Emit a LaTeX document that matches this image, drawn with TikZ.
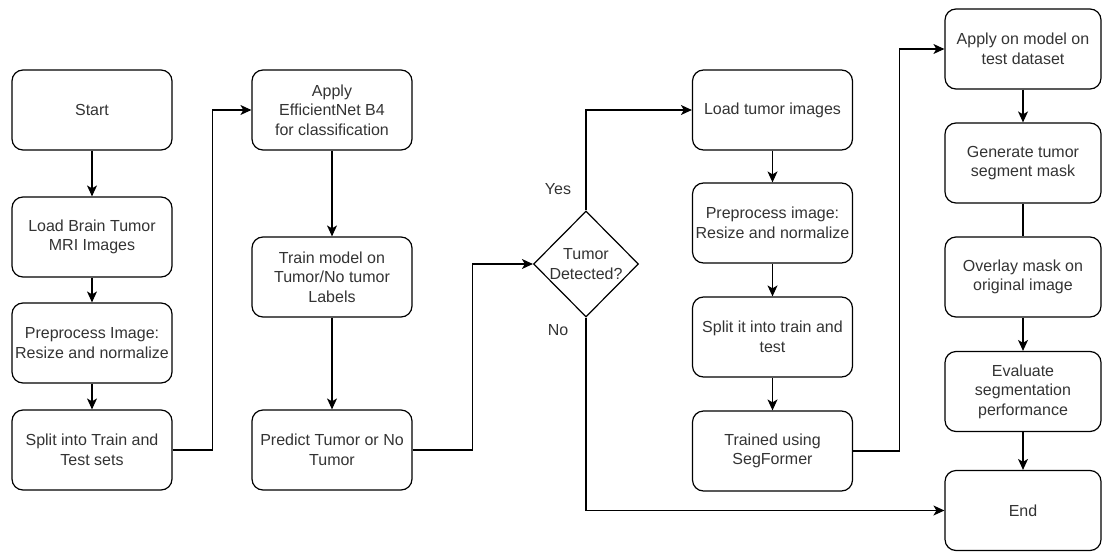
\documentclass[tikz,border=0pt]{standalone}
\usepackage{fontspec}
\setmainfont{Liberation Sans}
\usetikzlibrary{shapes.geometric,arrows.meta}
\definecolor{txt}{RGB}{51,51,51}
\tikzset{
  box/.style={draw=black, line width=1.2pt, rounded corners=11pt, minimum width=160pt, minimum height=80pt, align=center, inner sep=0pt, text=txt, font=\fontsize{16}{19.5}\selectfont},
  boxn/.style={box, minimum width=156pt},
  dec/.style={draw=black, line width=1.2pt, shape=diamond, minimum width=105pt, minimum height=106pt, inner sep=0pt},
  lbl/.style={text=txt, align=center, inner sep=0pt, font=\fontsize{16}{19.5}\selectfont},
  arr/.style={draw=black, line width=1.2pt, -{Stealth[length=11pt,width=10pt,inset=3pt]}},
  ln/.style={draw=black, line width=1.2pt}
}
\begin{document}
\begin{tikzpicture}[x=1pt,y=-1pt]
\useasboundingbox (0,0) rectangle (1102,551);
% column 1
\node[box] (start) at (92,110) {Start};
\node[box] (load) at (92,237) {Load Brain Tumor\\MRI Images};
\node[box] (prep) at (92,343) {Preprocess Image:\\Resize and normalize};
\node[box] (split) at (92,450) {Split into Train and\\Test sets};
% column 2
\node[box] (apply) at (332,110) {Apply\\EfficientNet B4\\for classification};
\node[box] (train) at (332,277) {Train model on\\Tumor/No tumor\\Labels};
\node[box] (pred) at (332,450) {Predict Tumor or No\\Tumor};
% decision
\node[dec] (dec) at (586,264) {};
\node[lbl] (dectext) at (586,264) {Tumor\\Detected?};
\node[lbl] (yes) at (558,189) {Yes};
\node[lbl] (no) at (558,330) {No};
% column 3
\node[box] (lt) at (772.5,110) {Load tumor images};
\node[box] (pp) at (772.5,223) {Preprocess image:\\Resize and normalize};
\node[box] (sp) at (772.5,337) {Split it into train and\\test};
\node[box] (tr) at (772.5,451) {Trained using\\SegFormer};
% column 4
\node[boxn] (ap) at (1023,49) {Apply on model on\\test dataset};
\node[boxn] (gen) at (1023,163) {Generate tumor\\segment mask};
\node[boxn] (ov) at (1023,277) {Overlay mask on\\original image};
\node[boxn] (ev) at (1023,391.5) {Evaluate\\segmentation\\performance};
\node[boxn] (end) at (1023,510.5) {End};
% connectors
\draw[arr] (start) -- (load);
\draw[arr] (load) -- (prep);
\draw[arr] (prep) -- (split);
\draw[arr] (split.east) -- ++(40,0) |- (apply.west);
\draw[arr] (apply) -- (train);
\draw[arr] (train) -- (pred);
\draw[arr] (pred.east) -- ++(60,0) |- (dec.west);
\draw[arr] (dec.north) |- (lt.west);
\draw[arr] (dec.south) |- (end.west);
\draw[arr] (lt) -- (pp);
\draw[arr] (pp) -- (sp);
\draw[arr] (sp) -- (tr);
\draw[arr] (tr.east) -- ++(46,0) |- (ap.west);
\draw[arr] (ap) -- (gen);
\draw[ln] (gen) -- (ov);
\draw[arr] (ov) -- (ev);
\draw[arr] (ev) -- (end);
\end{tikzpicture}
\end{document}
